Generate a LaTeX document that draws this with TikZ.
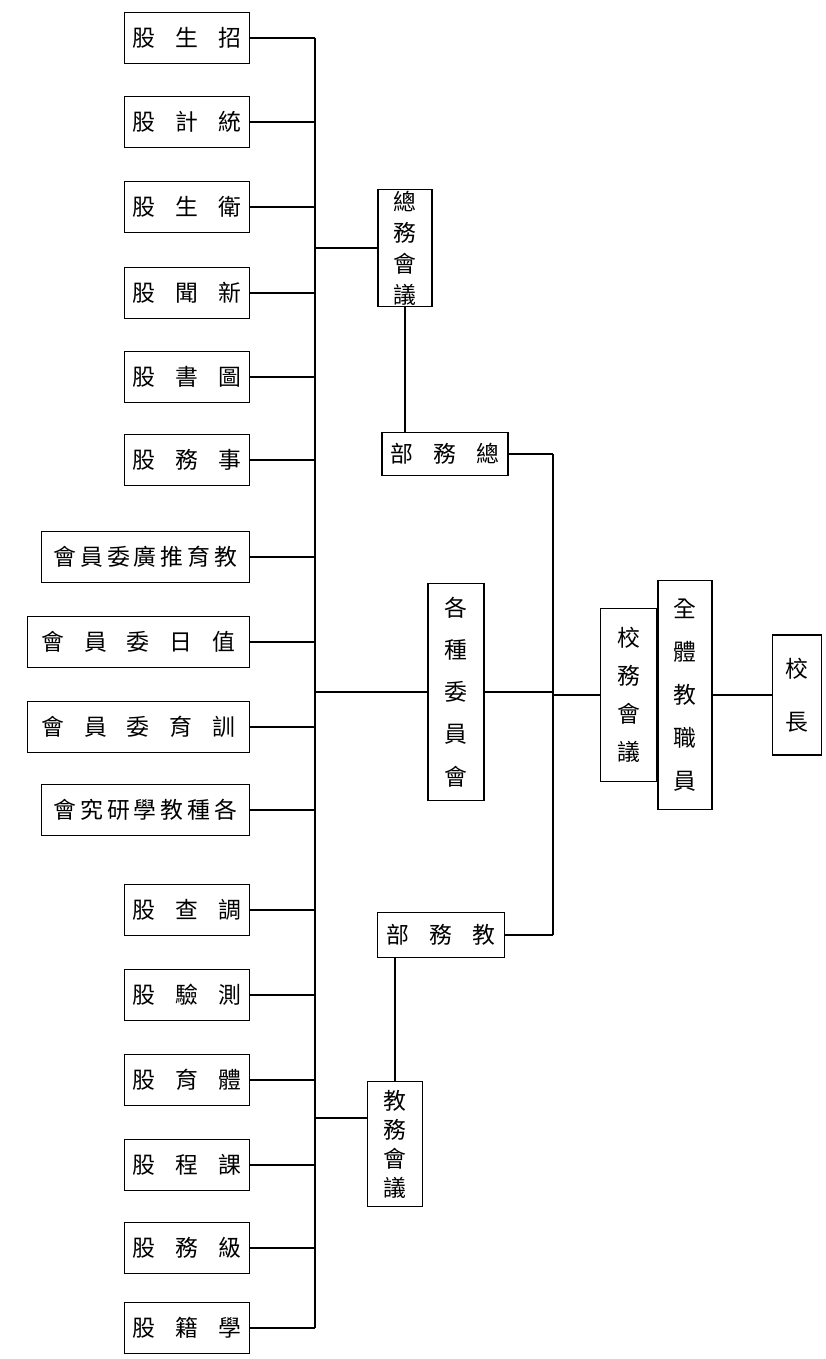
\documentclass[tikz,border=0pt]{standalone}
\usepackage{fontspec}
\newfontfamily\cjk{Noto Sans CJK TC}
\usetikzlibrary{positioning}
\TeXXeTstate=1
\newcommand{\wgap}{\hspace{0.4cm}}
\newcommand{\ngap}{\hspace{0.08cm}}

\begin{document}
\begin{tikzpicture}[
    x=0.02cm, y=-0.02cm,
    box/.style={rectangle, draw=black, line width=0.7pt, inner sep=0pt, font=\cjk\fontsize{13}{13}\selectfont},
    vbox/.style={box, align=center, font=\cjk\fontsize{13}{#1}\selectfont},
    leaf/.style={box, anchor=east, minimum height=1.02cm, minimum width=2.5cm},
    line/.style={line width=0.8pt}
]
\useasboundingbox (0,0) rectangle (825,1359);

% top of the chart
\node[vbox=30pt, minimum width=0.98cm, minimum height=2.4cm] (pres) at (797,695) {校\\長};
\node[vbox=24.5pt, minimum width=1.08cm, minimum height=4.58cm] (staff) at (685,695) {全\\體\\教\\職\\員};
\node[vbox=21.6pt, minimum width=1.12cm, minimum height=3.46cm, left=0pt of staff] (council) {校\\務\\會\\議};

% departments
\node[box, minimum width=2.52cm, minimum height=0.86cm] (genaff) at (445,454) {\beginR 總\wgap 務\wgap 部\endR};
\node[vbox=24pt, minimum width=1.12cm, minimum height=4.34cm] (cmte) at (456,692) {各\\種\\委\\員\\會};
\node[box, minimum width=2.54cm, minimum height=0.9cm] (acad) at (441,935) {\beginR 教\wgap 務\wgap 部\endR};
\node[vbox=17.6pt, minimum width=1.08cm, minimum height=2.34cm] (gameet) at (405,248) {總\\務\\會\\議};
\node[vbox=16.5pt, minimum width=1.1cm, minimum height=2.5cm] (acmeet) at (395,1144) {教\\務\\會\\議};

\coordinate (mtop) at (553,454);
\coordinate (mbot) at (553,935);
\coordinate (ltop) at (315,38);
\coordinate (lbot) at (315,1328);

% sections
\node[leaf] (zs) at (250,38) {\beginR 招\wgap 生\wgap 股\endR};
\node[leaf] (tj) at (250,122) {\beginR 統\wgap 計\wgap 股\endR};
\node[leaf] (ws) at (250,207) {\beginR 衛\wgap 生\wgap 股\endR};
\node[leaf] (xw) at (250,293) {\beginR 新\wgap 聞\wgap 股\endR};
\node[leaf] (ts) at (250,377) {\beginR 圖\wgap 書\wgap 股\endR};
\node[leaf] (sw) at (250,460) {\beginR 事\wgap 務\wgap 股\endR};
\node[leaf, minimum width=4.16cm] (tg) at (250,557) {\beginR 教\ngap 育\ngap 推\ngap 廣\ngap 委\ngap 員\ngap 會\endR};
\node[leaf, minimum width=4.44cm] (zr) at (250,642) {\beginR 值\wgap 日\wgap 委\wgap 員\wgap 會\endR};
\node[leaf, minimum width=4.44cm] (xy) at (250,727) {\beginR 訓\wgap 育\wgap 委\wgap 員\wgap 會\endR};
\node[leaf, minimum width=4.16cm] (yj) at (250,810) {\beginR 各\ngap 種\ngap 教\ngap 學\ngap 研\ngap 究\ngap 會\endR};
\node[leaf] (dc) at (250,910) {\beginR 調\wgap 查\wgap 股\endR};
\node[leaf] (cy) at (250,995) {\beginR 測\wgap 驗\wgap 股\endR};
\node[leaf] (ty) at (250,1080) {\beginR 體\wgap 育\wgap 股\endR};
\node[leaf] (kc) at (250,1165) {\beginR 課\wgap 程\wgap 股\endR};
\node[leaf] (jw) at (250,1248) {\beginR 級\wgap 務\wgap 股\endR};
\node[leaf] (xj) at (250,1328) {\beginR 學\wgap 籍\wgap 股\endR};

\draw[line] (staff) -- (pres);
\draw[line] (council.west) -- (council.west -| mtop);
\draw[line] (mtop) -- (mbot);
\draw[line] (genaff.east) -- (mtop);
\draw[line] (cmte.east) -- (cmte.east -| mtop);
\draw[line] (acad.east) -- (mbot);
\draw[line] (gameet.south) -- (gameet.south |- genaff.north);
\draw[line] (acmeet.north |- acad.south) -- (acmeet.north);
\draw[line] (gameet.west) -- (gameet.west -| ltop);
\draw[line] (cmte.west) -- (cmte.west -| ltop);
\draw[line] ([yshift=0.52cm]acmeet.west) -- ([yshift=0.52cm]acmeet.west -| ltop);
\draw[line] (ltop) -- (lbot);

\draw[line] (zs.east) -- (zs.east -| ltop);
\draw[line] (tj.east) -- (tj.east -| ltop);
\draw[line] (ws.east) -- (ws.east -| ltop);
\draw[line] (xw.east) -- (xw.east -| ltop);
\draw[line] (ts.east) -- (ts.east -| ltop);
\draw[line] (sw.east) -- (sw.east -| ltop);
\draw[line] (tg.east) -- (tg.east -| ltop);
\draw[line] (zr.east) -- (zr.east -| ltop);
\draw[line] (xy.east) -- (xy.east -| ltop);
\draw[line] (yj.east) -- (yj.east -| ltop);
\draw[line] (dc.east) -- (dc.east -| ltop);
\draw[line] (cy.east) -- (cy.east -| ltop);
\draw[line] (ty.east) -- (ty.east -| ltop);
\draw[line] (kc.east) -- (kc.east -| ltop);
\draw[line] (jw.east) -- (jw.east -| ltop);
\draw[line] (xj.east) -- (xj.east -| ltop);
\end{tikzpicture}
\end{document}
